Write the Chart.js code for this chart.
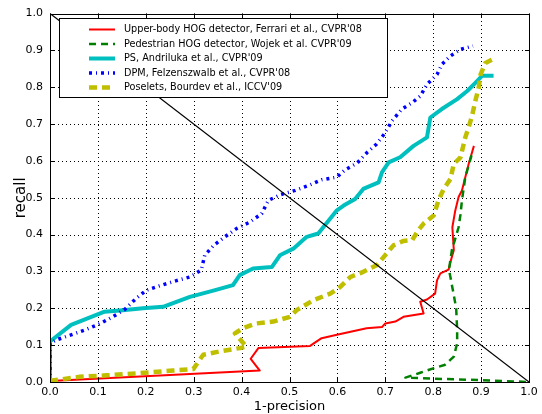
<!DOCTYPE html>
<html>
<head>
<meta charset="utf-8">
<script src="https://cdn.jsdelivr.net/npm/chart.js@4"></script>
<style>
  html, body { margin: 0; padding: 0; background: #fff; }
  #wrap { width: 542px; height: 414px; }
</style>
</head>
<body>
<div id="wrap"><canvas id="prChart" width="542" height="414"></canvas></div>
<script>
// Curvas precision-recall
const upperX = [0, 0.438, 0.419, 0.435, 0.543, 0.567, 0.599, 0.661, 0.693, 0.700, 0.721, 0.738, 0.780, 0.773, 0.787, 0.804, 0.808, 0.815, 0.832, 0.836, 0.843, 0.840, 0.846, 0.853, 0.860, 0.874, 0.885];
const upperY = [0.003, 0.031, 0.063, 0.092, 0.098, 0.119, 0.128, 0.146, 0.149, 0.159, 0.164, 0.177, 0.186, 0.218, 0.224, 0.240, 0.276, 0.295, 0.305, 0.326, 0.358, 0.420, 0.465, 0.502, 0.520, 0.592, 0.641];

const pedX = [0.880, 0.867, 0.860, 0.857, 0.853, 0.839, 0.833, 0.841, 0.848, 0.850, 0.850, 0.843, 0.825, 0.800, 0.773, 0.742, 0.800, 0.900, 1.0];
const pedY = [0.615, 0.556, 0.493, 0.455, 0.420, 0.358, 0.305, 0.250, 0.200, 0.141, 0.105, 0.069, 0.047, 0.037, 0.025, 0.012, 0.009, 0.005, 0.0];

const psX = [0, 0, 0.044, 0.114, 0.152, 0.194, 0.236, 0.292, 0.341, 0.382, 0.396, 0.424, 0.463, 0.480, 0.508, 0.536, 0.560, 0.578, 0.599, 0.613, 0.637, 0.654, 0.686, 0.693, 0.707, 0.731, 0.759, 0.787, 0.794, 0.818, 0.850, 0.871, 0.888, 0.902, 0.926];
const psY = [0, 0.110, 0.155, 0.191, 0.195, 0.200, 0.204, 0.231, 0.248, 0.263, 0.290, 0.308, 0.312, 0.344, 0.362, 0.394, 0.403, 0.432, 0.466, 0.479, 0.497, 0.524, 0.542, 0.569, 0.596, 0.610, 0.641, 0.664, 0.718, 0.741, 0.768, 0.790, 0.812, 0.831, 0.831];

const dpmX = [0, 0, 0.013, 0.044, 0.072, 0.104, 0.131, 0.156, 0.180, 0.201, 0.233, 0.264, 0.292, 0.316, 0.323, 0.341, 0.365, 0.390, 0.417, 0.442, 0.456, 0.480, 0.512, 0.539, 0.567, 0.599, 0.616, 0.641, 0.662, 0.682, 0.700, 0.714, 0.735, 0.756, 0.773, 0.787, 0.808, 0.818, 0.836, 0.857, 0.883];
const dpmY = [0, 0.105, 0.114, 0.128, 0.141, 0.158, 0.177, 0.197, 0.227, 0.249, 0.263, 0.275, 0.285, 0.304, 0.344, 0.370, 0.394, 0.417, 0.434, 0.457, 0.493, 0.508, 0.520, 0.533, 0.549, 0.556, 0.576, 0.594, 0.623, 0.646, 0.677, 0.709, 0.741, 0.758, 0.776, 0.808, 0.835, 0.862, 0.885, 0.903, 0.912];

const poseX = [0, 0.062, 0.118, 0.187, 0.257, 0.299, 0.320, 0.362, 0.396, 0.410, 0.386, 0.403, 0.431, 0.466, 0.501, 0.515, 0.550, 0.585, 0.606, 0.627, 0.654, 0.682, 0.703, 0.717, 0.738, 0.756, 0.769, 0.780, 0.801, 0.811, 0.822, 0.836, 0.843, 0.857, 0.867, 0.874, 0.881, 0.888, 0.895, 0.899, 0.909, 0.930];
const poseY = [0.003, 0.014, 0.018, 0.024, 0.031, 0.035, 0.074, 0.085, 0.092, 0.096, 0.132, 0.146, 0.159, 0.164, 0.177, 0.195, 0.222, 0.240, 0.258, 0.285, 0.299, 0.317, 0.349, 0.371, 0.383, 0.385, 0.412, 0.430, 0.452, 0.493, 0.524, 0.551, 0.592, 0.610, 0.664, 0.691, 0.722, 0.763, 0.799, 0.835, 0.866, 0.880];

// Diagonal de referencia
const diagX = [0, 1];
const diagY = [1, 0];

const tickValues = [0, 0.1, 0.2, 0.3, 0.4, 0.5, 0.6, 0.7, 0.8, 0.9, 1.0];

const labels = [
    'Upper-body HOG detector, Ferrari et al., CVPR\'08',
    'Pedestrian HOG detector, Wojek et al. CVPR\'09',
    'PS, Andriluka et al., CVPR\'09',
    'DPM, Felzenszwalb et al., CVPR\'08',
    'Poselets, Bourdev et al., ICCV\'09'
];

function toPoints(xs, ys) {
    return xs.map((x, i) => ({ x: x, y: ys[i] }));
}

const FONT = 'DejaVu Sans';

function line(label, xs, ys, color, width, dash, order) {
    return {
        label: label,
        data: toPoints(xs, ys),
        borderColor: color,
        backgroundColor: color,
        borderWidth: width,
        borderDash: dash,
        borderCapStyle: 'butt',
        borderJoinStyle: 'round',
        showLine: true,
        pointRadius: 0,
        tension: 0,
        order: order
    };
}

const datasets = [
    line(labels[0], upperX, upperY, '#ff0000', 2, [], 5),
    line(labels[1], pedX, pedY, '#008000', 2.5, [7, 5], 4),
    line(labels[2], psX, psY, '#00bfbf', 4, [], 3),
    line(labels[3], dpmX, dpmY, '#0000ff', 3.5, [3, 4, 1, 4], 2),
    line(labels[4], poseX, poseY, '#bfbf00', 4.5, [8, 5], 1),
    line('diag', diagX, diagY, '#000000', 1.2, [], 0)
];

// Rejilla punteada, marco, marcas interiores y leyenda estilo matplotlib
const framePlugin = {
    id: 'frame',
    beforeDatasetsDraw(chart) {
        const ctx = chart.ctx;
        const a = chart.chartArea;
        const xs = chart.scales.x, ys = chart.scales.y;
        ctx.save();
        ctx.strokeStyle = '#000';
        ctx.lineWidth = 1;
        ctx.setLineDash([1, 3]);
        ctx.beginPath();
        tickValues.forEach(v => {
            const px = Math.round(xs.getPixelForValue(v)) + 0.5;
            const py = Math.round(ys.getPixelForValue(v)) + 0.5;
            ctx.moveTo(px, a.bottom); ctx.lineTo(px, a.top);
            ctx.moveTo(a.left, py); ctx.lineTo(a.right, py);
        });
        ctx.stroke();
        ctx.restore();
    },
    afterDatasetsDraw(chart) {
        const ctx = chart.ctx;
        const a = chart.chartArea;
        const xs = chart.scales.x, ys = chart.scales.y;
        ctx.save();
        ctx.strokeStyle = '#000';
        ctx.lineWidth = 1;
        ctx.beginPath();
        tickValues.forEach(v => {
            const px = Math.round(xs.getPixelForValue(v)) + 0.5;
            const py = Math.round(ys.getPixelForValue(v)) + 0.5;
            ctx.moveTo(px, a.bottom); ctx.lineTo(px, a.bottom - 4);
            ctx.moveTo(px, a.top); ctx.lineTo(px, a.top + 4);
            ctx.moveTo(a.left, py); ctx.lineTo(a.left + 4, py);
            ctx.moveTo(a.right, py); ctx.lineTo(a.right - 4, py);
        });
        ctx.stroke();
        ctx.strokeRect(Math.round(a.left) + 0.5, Math.round(a.top) + 0.5,
            Math.round(a.right - a.left), Math.round(a.bottom - a.top));

        // Leyenda
        const lx = 59.5, ly = 18.5, lw = 328, lh = 79;
        ctx.fillStyle = '#fff';
        ctx.fillRect(lx, ly, lw, lh);
        ctx.strokeRect(lx, ly, lw, lh);
        ctx.font = '9.7px "' + FONT + '"';
        ctx.textBaseline = 'middle';
        ctx.textAlign = 'left';
        for (let i = 0; i < 5; i++) {
            const ds = chart.data.datasets[i];
            const rowY = 29.5 + i * 14.5;
            ctx.save();
            ctx.strokeStyle = ds.borderColor;
            ctx.lineWidth = ds.borderWidth;
            ctx.setLineDash(ds.borderDash);
            ctx.lineCap = 'butt';
            ctx.beginPath();
            ctx.moveTo(89, rowY);
            ctx.lineTo(115, rowY);
            ctx.stroke();
            ctx.restore();
            ctx.fillStyle = '#000';
            ctx.fillText(ds.label, 124, rowY);
        }
        ctx.restore();
    }
};

const ctx = document.getElementById('prChart').getContext('2d');
const prChart = new Chart(ctx, {
    type: 'scatter',
    data: { datasets: datasets },
    plugins: [framePlugin],
    options: {
        responsive: false,
        animation: false,
        layout: { padding: { top: 12, right: 13, left: 0, bottom: 0 } },
        plugins: {
            legend: { display: false },
            tooltip: { enabled: false }
        },
        scales: {
            x: {
                type: 'linear',
                min: 0,
                max: 1,
                afterFit: (scale) => { scale.height = 32; },
                ticks: {
                    stepSize: 0.1,
                    padding: 4,
                    color: '#000',
                    font: { family: FONT, size: 11 },
                    callback: (v) => v.toFixed(1)
                },
                grid: { display: false, drawTicks: false },
                border: { display: false },
                title: {
                    display: true,
                    text: '1-precision',
                    color: '#000',
                    font: { family: FONT, size: 13 },
                    padding: { top: 0, bottom: 0 }
                }
            },
            y: {
                type: 'linear',
                min: 0,
                max: 1,
                afterFit: (scale) => { scale.width = 50; },
                ticks: {
                    stepSize: 0.1,
                    padding: 7,
                    color: '#000',
                    font: { family: FONT, size: 11 },
                    callback: (v) => v.toFixed(1)
                },
                grid: { display: false, drawTicks: false },
                border: { display: false },
                title: {
                    display: true,
                    text: 'recall',
                    color: '#000',
                    font: { family: FONT, size: 15 },
                    padding: { top: 12, bottom: 0 }
                }
            }
        }
    }
});
</script>
</body>
</html>
